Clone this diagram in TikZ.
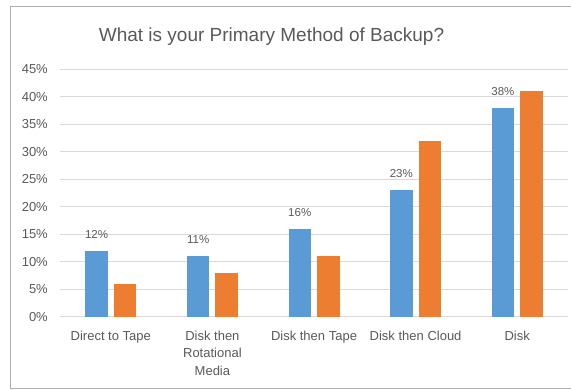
\documentclass[tikz,border=0pt]{standalone}
\usepackage{fontspec}
\setmainfont{Liberation Sans}

\definecolor{barblue}{HTML}{5B9BD5}
\definecolor{barorange}{HTML}{ED7D31}
\definecolor{textgray}{HTML}{595959}
\definecolor{gridgray}{HTML}{D9D9D9}
\definecolor{framegray}{HTML}{ADADAD}

\tikzset{
  charttitle/.style={text=textgray, font=\fontsize{19}{22}\selectfont, anchor=base, inner sep=0pt},
  ticklabel/.style={text=textgray, font=\fontsize{13}{15}\selectfont, anchor=east, inner sep=0pt},
  catlabel/.style={text=textgray, font=\fontsize{13}{17.5}\selectfont, align=center, anchor=north, inner sep=0pt},
  vallabel/.style={text=textgray, font=\fontsize{11.5}{13}\selectfont, anchor=base, inner sep=0pt},
  gridline/.style={draw=gridgray, line width=1pt},
}

\begin{document}
\begin{tikzpicture}[x=1pt, y=-1pt]
\useasboundingbox (0,0) rectangle (571,390);

% chart frame
\draw[framegray, line width=1pt] (571,7) -- (10,7) -- (10,389) -- (571,389);

\node[charttitle] (title) at (271.5,41.5) {What is your Primary Method of Backup?};

% grid and axis
\foreach \p in {0,5,...,45} {
  \draw[gridline] (60,317-5.5*\p) -- (568,317-5.5*\p);
  \node[ticklabel] (tick\p) at (48,317-5.5*\p) {\p\%};
}

% bars
\foreach \i/\blue/\orange/\cat in {1/12/6/{Direct to Tape},
    2/11/8/{Disk then\\Rotational\\Media},
    3/16/11/{Disk then Tape},
    4/23/32/{Disk then Cloud},
    5/38/41/{Disk}} {
  \pgfmathsetmacro{\c}{60+(\i-0.5)*101.6}
  \fill[barblue] (\c-25.5,317) rectangle (\c-3,317-5.5*\blue);
  \fill[barorange] (\c+3,317) rectangle (\c+25.5,317-5.5*\orange);
  \node[vallabel] (val\i) at (\c-14.25,317-5.5*\blue-12.5) {\blue\%};
  \node[catlabel] (cat\i) at (\c,330.5) {\cat};
}
\end{tikzpicture}
\end{document}
